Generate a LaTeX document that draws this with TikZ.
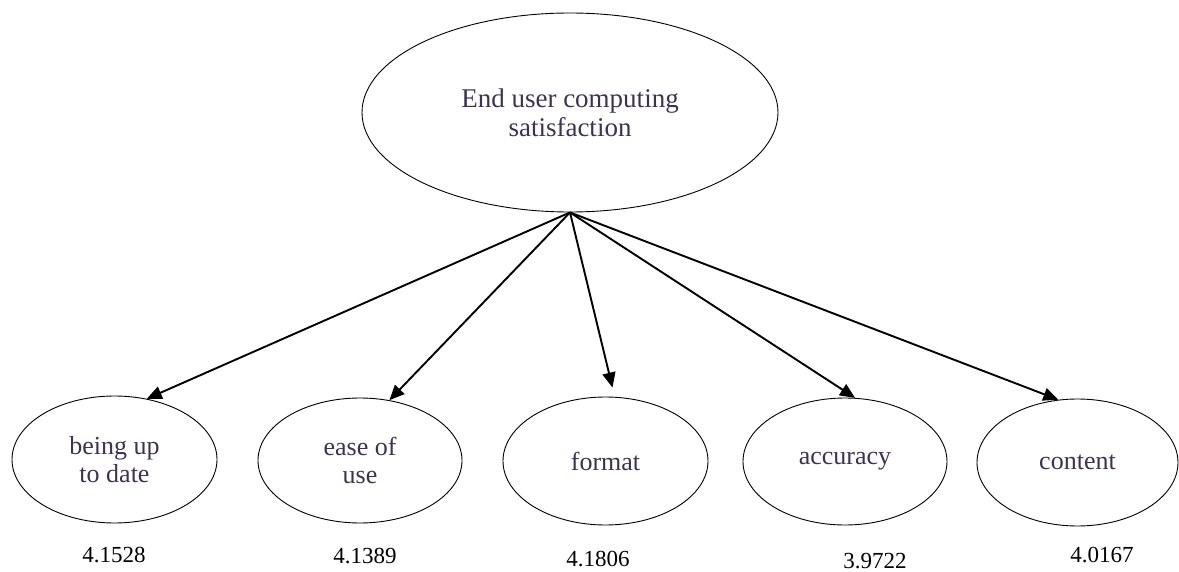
\documentclass[tikz,border=0pt]{standalone}
\usepackage{fontspec}
\setmainfont{Liberation Serif}
\usetikzlibrary{shapes.geometric,arrows.meta,calc}
\definecolor{labelcol}{RGB}{64,49,82}
\tikzset{
  oval/.style={ellipse, draw=black, line width=0.9pt, inner sep=0pt,
    text=labelcol, align=center, font=\fontsize{26}{28.5}\selectfont},
  arr/.style={line width=1.9pt, -{Triangle[length=15pt,width=13pt]}},
  score/.style={font=\fontsize{23}{26}\selectfont, text=black, inner sep=0pt}
}
\begin{document}
\begin{tikzpicture}[x=1pt,y=-1pt]
\useasboundingbox (0,0) rectangle (1179,572);
\node[oval, font=\fontsize{27}{29}\selectfont, minimum width=416pt, minimum height=199pt] (main) at (570,112.5) {End user computing\\satisfaction};
\node[oval, minimum width=205pt, minimum height=127pt] (e1) at (114.5,459.5) {being up\\to date};
\node[oval, minimum width=204pt, minimum height=125pt] (e2) at (360,460.5) {ease of\\use};
\node[oval, minimum width=205pt, minimum height=128pt] (e3) at (605.5,461) {format};
\node[oval, minimum width=204pt, minimum height=127pt] (e4) at (845,461.5) {accuracy};
\node[oval, minimum width=201pt, minimum height=127pt] (e5) at (1077.5,462.5) {content};
\draw[arr] (main.south) -- (e1.62);
\draw[arr] (main.south) -- (e2.64);
\draw[arr] (main.south) -- ($(e3.north)+(7,-9)$);
\draw[arr] (main.south) -- (e4.81);
\draw[arr] (main.south) -- (e5.107);
\node[score] (s1) at (114,555.5) {4.1528};
\node[score] (s2) at (365,556.5) {4.1389};
\node[score] (s3) at (598,559) {4.1806};
\node[score] (s4) at (875,561) {3.9722};
\node[score] (s5) at (1102,555) {4.0167};
\end{tikzpicture}
\end{document}
